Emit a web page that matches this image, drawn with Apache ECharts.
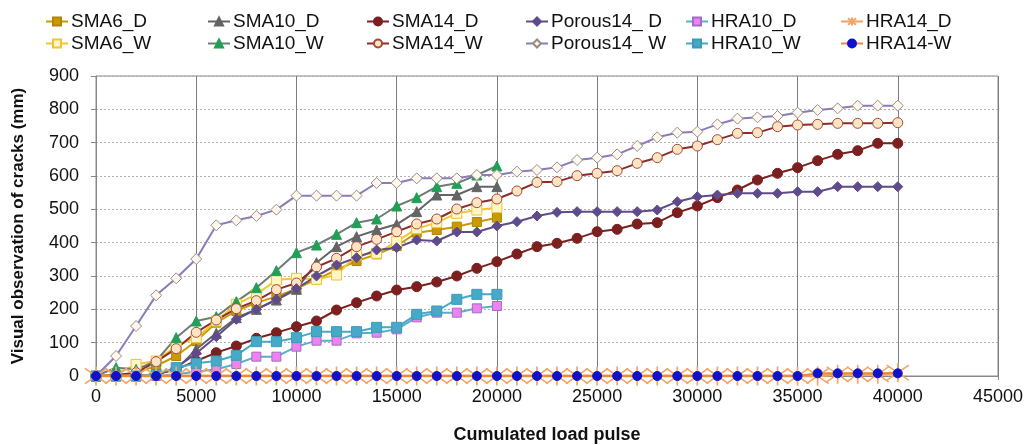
<!DOCTYPE html>
<html>
<head>
<meta charset="utf-8">
<script src="https://cdn.jsdelivr.net/npm/echarts@6/dist/echarts.min.js"></script>
<style>
  html, body { margin: 0; padding: 0; background: #fff; }
  #chart { width: 1028px; height: 445px; }
</style>
</head>
<body>
<div id="chart"></div>
<script>
// Load pulse positions (one reading every 1000 pulses)
const pulses20 = [0,1000,2000,3000,4000,5000,6000,7000,8000,9000,10000,11000,12000,13000,14000,15000,16000,17000,18000,19000,20000];
const pulses40 = [0,1000,2000,3000,4000,5000,6000,7000,8000,9000,10000,11000,12000,13000,14000,15000,16000,17000,18000,19000,20000,
                  21000,22000,23000,24000,25000,26000,27000,28000,29000,30000,31000,32000,33000,34000,35000,36000,37000,38000,39000,40000];

// Visual crack observation (mm)
const sma6D  = [0,0,10,30,60,105,160,195,220,238,262,290,318,345,365,390,430,438,448,462,475];
const sma6W  = [0,5,35,45,90,115,165,215,245,288,293,290,303,363,368,403,442,460,488,498,505];
const sma10D = [0,0,0,5,20,80,128,175,200,228,260,340,388,418,438,455,493,543,543,568,568];
const sma10W = [0,25,20,45,115,165,178,223,265,316,370,393,425,460,471,510,535,568,578,603,630];
const hra10D = [0,0,0,0,5,13,20,36,58,58,88,106,106,128,130,140,176,190,190,203,210];
const hra10W = [0,0,0,5,25,38,45,62,103,103,115,133,133,133,146,146,185,195,230,245,245];
const sma14D = [0,0,0,5,20,45,70,90,113,130,148,165,198,220,240,258,268,282,300,323,343,
                366,388,398,413,433,440,456,460,490,510,535,558,588,608,625,646,665,676,698,698];
const sma14W = [0,3,10,43,82,131,168,202,226,259,279,327,353,388,410,433,456,471,501,520,531,
                555,581,583,601,608,616,638,655,680,690,709,728,730,748,753,755,758,758,758,760];
const por14D = [0,0,0,5,25,68,118,170,200,230,262,300,333,355,378,385,408,405,432,432,450,
                463,480,491,493,493,493,493,498,523,538,543,548,548,548,553,553,568,568,568,568];
const por14W = [0,60,150,242,293,351,452,467,480,499,541,541,541,541,579,579,593,593,593,603,603,
                613,618,626,648,655,665,690,716,730,733,755,772,776,780,790,798,803,811,811,811];
const hra14D = [0,0,0,0,0,0,0,0,0,0,0,0,0,0,0,0,0,0,0,0,0,
                0,0,0,0,0,0,0,0,0,0,0,0,0,0,0,0,5,5,5,10];
const hra14W = [0,0,0,0,0,0,0,0,0,0,0,0,0,0,0,0,0,0,0,0,0,
                0,0,0,0,0,0,0,0,0,0,0,0,0,0,0,8,8,8,8,8];

// Axis ticks
const xTicks = [0,5000,10000,15000,20000,25000,30000,35000,40000,45000];
const yTicks = [0,100,200,300,400,500,600,700,800,900];

const pair = (xs, ys) => xs.map((x, i) => [x, ys[i]]);

const FONT = "'Liberation Sans', Arial, sans-serif";

// Asterisk marker: vertical stroke plus two diagonals
const asterisk = 'path://M0,-10L0,10M-10,-8L10,8M-10,8L10,-8';

function line(name, xs, ys, lineColor, symbol, size, fill, border, extra) {
  return Object.assign({
    name: name,
    type: 'line',
    data: pair(xs, ys),
    symbol: symbol,
    symbolSize: size,
    showAllSymbol: true,
    animation: false,
    lineStyle: { color: lineColor, width: 2 },
    itemStyle: { color: fill, borderColor: border, borderWidth: 1 }
  }, extra || {});
}

const series = [
  line('SMA6_D', pulses20, sma6D, '#C99A06', 'rect', 9, '#C99A06', '#B08600'),
  line('SMA6_W', pulses20, sma6W, '#F2C630', 'rect', 10, '#FFF6C8', '#EFC23A'),
  line('SMA10_D', pulses20, sma10D, '#646464', 'triangle', 10, '#646464', '#646464'),
  line('SMA10_W', pulses20, sma10W, '#6F7C76', 'triangle', 10, '#1FA055', '#1FA055'),
  line('SMA14_D', pulses40, sma14D, '#7B1F1F', 'circle', 10, '#7B1F1F', '#7B1F1F'),
  line('SMA14_W', pulses40, sma14W, '#8C2C2C', 'circle', 10, '#FFE3C2', '#9C4D3C'),
  line('Porous14_ D', pulses40, por14D, '#5F4B8B', 'diamond', 10, '#5F4B8B', '#5F4B8B'),
  line('Porous14_ W', pulses40, por14W, '#8A7BBB', 'diamond', 11, '#FFF8EE', '#9A8A84'),
  line('HRA10_D', pulses20, hra10D, '#5AAECB', 'rect', 9, '#EE82EE', '#A36CC6'),
  line('HRA10_W', pulses20, hra10W, '#46A9C7', 'rect', 10, '#46A9C7', '#3A9BB8'),
  line('HRA14_D', pulses40, hra14D, '#F2A15C', asterisk, [22, 19], '#F2A66A', '#F2A66A',
       { lineStyle: { color: '#F2A15C', width: 3 }, itemStyle: { color: '#F2A66A', borderColor: '#F2A66A', borderWidth: 1.6 } }),
  line('HRA14-W', pulses40, hra14W, '#F08A30', 'circle', 9, '#0F12C8', '#0F12C8')
];

// Legend laid out as six columns of two rows
const legendCols = [45, 207, 366, 525, 685, 840];
const legendRows = [12, 34];
const legendNames = [
  ['SMA6_D', 'SMA6_W'], ['SMA10_D', 'SMA10_W'], ['SMA14_D', 'SMA14_W'],
  ['Porous14_ D', 'Porous14_ W'], ['HRA10_D', 'HRA10_W'], ['HRA14_D', 'HRA14-W']
];
const legends = [];
legendNames.forEach((col, c) => {
  col.forEach((nm, r) => {
    legends.push({
      data: [nm],
      left: legendCols[c],
      top: legendRows[r],
      itemWidth: 22,
      itemHeight: 10,
      itemGap: 0,
      padding: 0,
      selectedMode: false,
      textStyle: { fontFamily: FONT, fontSize: 19, color: '#111', padding: [0, 0, 0, -2] }
    });
  });
});

const chart = echarts.init(document.getElementById('chart'), null, { renderer: 'canvas' });
chart.setOption({
  animation: false,
  backgroundColor: '#ffffff',
  legend: legends,
  grid: {
    left: 96, right: 30, top: 76, bottom: 69,
    outerBoundsMode: 'none',
    containLabel: false,
    show: true, borderColor: '#8a8a8a', borderWidth: 1
  },
  xAxis: {
    type: 'value',
    min: xTicks[0], max: xTicks[xTicks.length - 1], interval: 5000,
    name: 'Cumulated load pulse',
    nameLocation: 'middle',
    nameGap: 50,
    nameTextStyle: { fontFamily: FONT, fontWeight: 'bold', fontSize: 18, color: '#111' },
    axisLine: { show: true, lineStyle: { color: '#888', width: 1 } },
    axisTick: { show: true, length: 4, lineStyle: { color: '#888' } },
    axisLabel: { fontFamily: FONT, fontSize: 18, color: '#111', margin: 12, formatter: v => String(v) },
    splitLine: { show: true, lineStyle: { color: '#7d7d7d', width: 1, type: 'solid' } }
  },
  yAxis: {
    type: 'value',
    min: yTicks[0], max: yTicks[yTicks.length - 1], interval: 100,
    name: 'Visual observation of cracks (mm)',
    nameLocation: 'middle',
    nameGap: 69,
    nameTextStyle: { fontFamily: FONT, fontWeight: 'bold', fontSize: 17, color: '#111' },
    axisLine: { show: true, lineStyle: { color: '#888', width: 1 } },
    axisTick: { show: true, inside: false, length: 5, lineStyle: { color: '#888' } },
    axisLabel: { fontFamily: FONT, fontSize: 18, color: '#111', margin: 17, formatter: v => String(v) },
    splitLine: { show: true, lineStyle: { color: '#b0b0b0', width: 1, type: [2, 2] } }
  },
  series: series
});
</script>
</body>
</html>
